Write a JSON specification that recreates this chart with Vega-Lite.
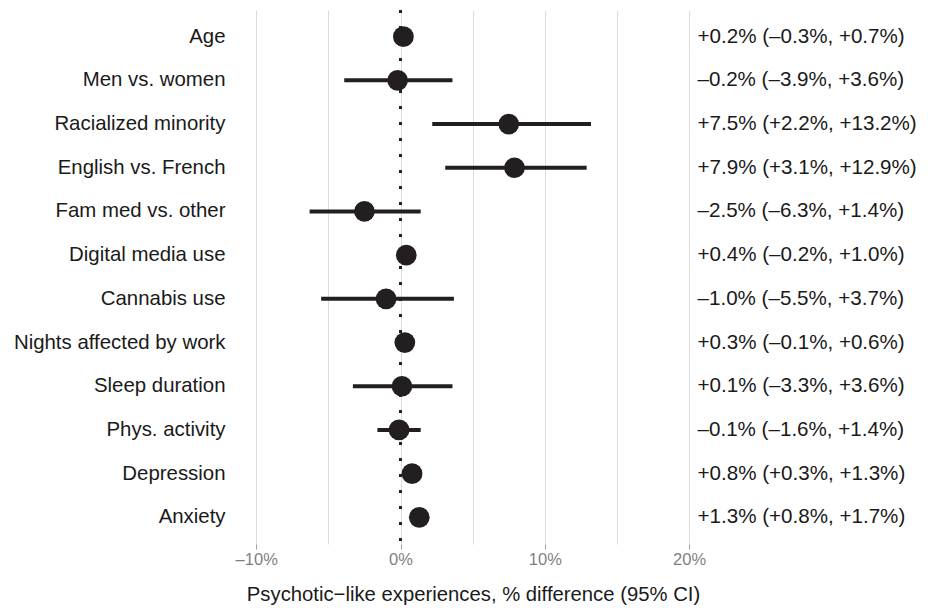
{
  "$schema": "https://vega.github.io/schema/vega-lite/v6.json",
  "width": 456,
  "height": 534,
  "padding": {"left": 13, "top": 8, "right": 5, "bottom": 5},
  "config": {"view": {"stroke": null}, "font": "Liberation Sans"},
  "data": {"values": [
    {"order": 1, "label": "Age", "est": 0.2, "lo": -0.3, "hi": 0.7, "ci": "+0.2% (–0.3%, +0.7%)"},
    {"order": 2, "label": "Men vs. women", "est": -0.2, "lo": -3.9, "hi": 3.6, "ci": "–0.2% (–3.9%, +3.6%)"},
    {"order": 3, "label": "Racialized minority", "est": 7.5, "lo": 2.2, "hi": 13.2, "ci": "+7.5% (+2.2%, +13.2%)"},
    {"order": 4, "label": "English vs. French", "est": 7.9, "lo": 3.1, "hi": 12.9, "ci": "+7.9% (+3.1%, +12.9%)"},
    {"order": 5, "label": "Fam med vs. other", "est": -2.5, "lo": -6.3, "hi": 1.4, "ci": "–2.5% (–6.3%, +1.4%)"},
    {"order": 6, "label": "Digital media use", "est": 0.4, "lo": -0.2, "hi": 1.0, "ci": "+0.4% (–0.2%, +1.0%)"},
    {"order": 7, "label": "Cannabis use", "est": -1.0, "lo": -5.5, "hi": 3.7, "ci": "–1.0% (–5.5%, +3.7%)"},
    {"order": 8, "label": "Nights affected by work", "est": 0.3, "lo": -0.1, "hi": 0.6, "ci": "+0.3% (–0.1%, +0.6%)"},
    {"order": 9, "label": "Sleep duration", "est": 0.1, "lo": -3.3, "hi": 3.6, "ci": "+0.1% (–3.3%, +3.6%)"},
    {"order": 10, "label": "Phys. activity", "est": -0.1, "lo": -1.6, "hi": 1.4, "ci": "–0.1% (–1.6%, +1.4%)"},
    {"order": 11, "label": "Depression", "est": 0.8, "lo": 0.3, "hi": 1.3, "ci": "+0.8% (+0.3%, +1.3%)"},
    {"order": 12, "label": "Anxiety", "est": 1.3, "lo": 0.8, "hi": 1.7, "ci": "+1.3% (+0.8%, +1.7%)"}
  ]},
  "layer": [
    {
      "layer": [
        {
          "data": {"values": [{"zero": 0}]},
          "mark": {"type": "rule", "strokeDash": [3, 13], "strokeWidth": 3, "color": "#231f20"},
          "encoding": {"x": {"field": "zero", "type": "quantitative"}}
        },
        {
          "mark": {"type": "rule", "strokeWidth": 4, "color": "#231f20"},
          "encoding": {
            "y": {"field": "label", "type": "nominal", "sort": {"field": "order"},
              "scale": {"type": "band", "paddingInner": 0, "paddingOuter": 0.11},
              "axis": {"title": null, "domain": false, "ticks": false, "grid": false, "labelFontSize": 20.4, "labelColor": "#1a1a1a", "labelPadding": 11, "labelLimit": 400}},
            "x": {"field": "lo", "type": "quantitative",
              "scale": {"domain": [-11.4, 20.2], "nice": false, "zero": false},
              "axis": {
                "values": [-10, -5, 0, 5, 10, 15, 20],
                "grid": true, "gridColor": "#dcdcdc", "gridWidth": 1,
                "domain": false,
                "tickColor": "#a0a0a0", "tickSize": 5,
                "tickOpacity": {"condition": {"test": "datum.value % 10 == 0", "value": 1}, "value": 0},
                "labelExpr": "datum.value % 10 == 0 ? (datum.value < 0 ? '–' + abs(datum.value) + '%' : datum.value + '%') : ''",
                "labelColor": "#7f7f7f", "labelFontSize": 16.5, "labelPadding": 2,
                "title": "Psychotic−like experiences, % difference (95% CI)",
                "titleFontSize": 20.3, "titleFontWeight": "normal", "titleColor": "#1a1a1a", "titlePadding": 17,
                "titleX": 237, "titleAlign": "center", "titleAnchor": "middle"
              }},
            "x2": {"field": "hi"}
          }
        },
        {
          "mark": {"type": "circle", "size": 430, "opacity": 1, "color": "#231f20"},
          "encoding": {
            "y": {"field": "label", "type": "nominal", "sort": {"field": "order"}},
            "x": {"field": "est", "type": "quantitative"}
          }
        }
      ]
    },
    {
      "mark": {"type": "circle", "opacity": 0},
      "encoding": {
        "y": {"field": "ci", "type": "nominal", "sort": {"field": "order"},
          "scale": {"type": "band", "paddingInner": 0, "paddingOuter": 0.11},
          "axis": {"orient": "right", "title": null, "domain": false, "ticks": false, "grid": false, "labelFontSize": 20.6, "labelColor": "#1a1a1a", "labelPadding": 5, "labelAlign": "left", "labelLimit": 400}},
        "x": {"field": "est", "type": "quantitative"}
      }
    }
  ],
  "resolve": {"scale": {"y": "independent"}}
}
